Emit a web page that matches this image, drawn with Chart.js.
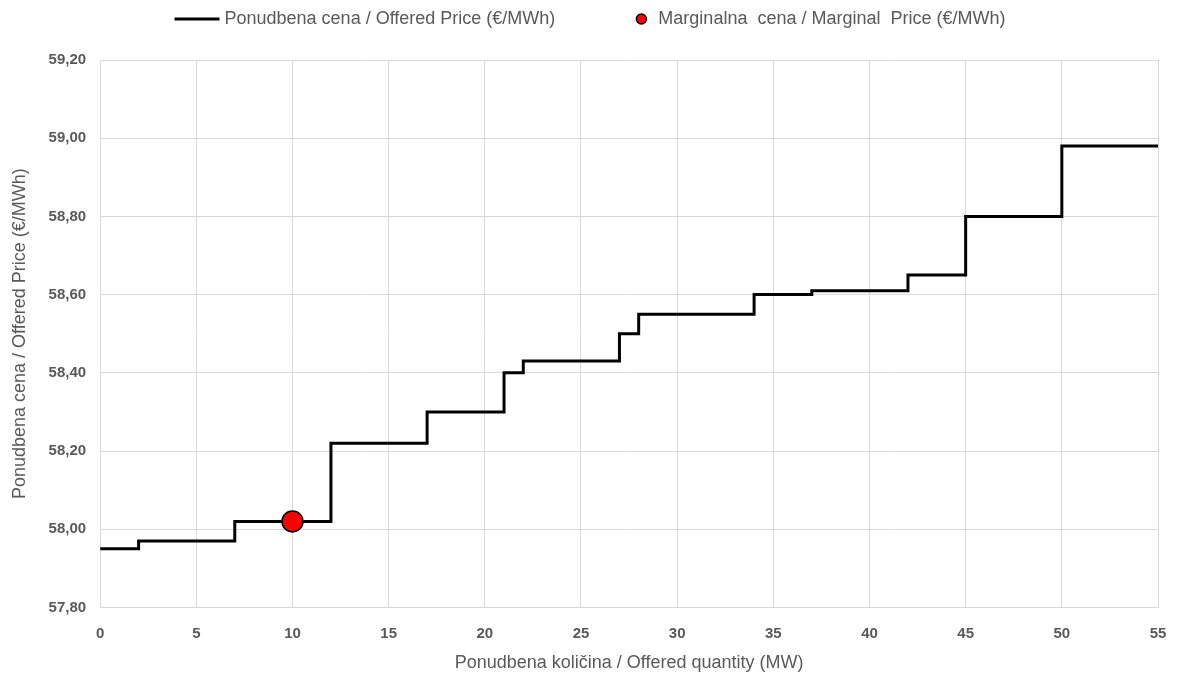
<!DOCTYPE html>
<html>
<head>
<meta charset="utf-8">
<script src="https://cdn.jsdelivr.net/npm/chart.js@4.4.0/dist/chart.umd.min.js"></script>
<style>
  html, body { margin: 0; padding: 0; background: #fff; }
  #wrap { width: 1180px; height: 675px; }
</style>
</head>
<body>
<div id="wrap"><canvas id="myChart"></canvas></div>
<script>
// step points: offered quantity (MW) where price changes, and the price from there on
const quantities = [0, 2, 7, 12, 17, 21, 22, 27, 28, 34, 37, 42, 45, 50, 55];
const prices = [57.95, 57.97, 58.02, 58.22, 58.30, 58.40, 58.43, 58.50, 58.55, 58.60, 58.61, 58.65, 58.80, 58.98, 58.98];
const marginalQty = [10];
const marginalPrice = [58.02];

const offerLabel = "Ponudbena cena / Offered Price (€/MWh)";
const marginalLabel = "Marginalna  cena / Marginal  Price (€/MWh)";
const textGray = '#595959';
const gridGray = '#d9d9d9';
const fontFam = '"Liberation Sans", Arial, sans-serif';

// legend drawn by hand so the line sample can be wider than the dot
const topLegend = {
    id: 'topLegend',
    afterDraw(chart) {
        const ctx = chart.ctx;
        ctx.save();
        ctx.font = '18px ' + fontFam;
        const w1 = ctx.measureText(offerLabel).width;
        const w2 = ctx.measureText(marginalLabel).width;
        const total = 45 + 5 + w1 + 81 + 22 + w2;
        let x = chart.width / 2 - total / 2;
        const y = 19;
        ctx.strokeStyle = '#000';
        ctx.lineWidth = 3;
        ctx.beginPath();
        ctx.moveTo(x, y);
        ctx.lineTo(x + 45, y);
        ctx.stroke();
        ctx.fillStyle = textGray;
        ctx.textBaseline = 'middle';
        ctx.fillText(offerLabel, x + 50, y);
        x += 50 + w1 + 81;
        ctx.beginPath();
        ctx.arc(x + 5, y, 5, 0, Math.PI * 2);
        ctx.fillStyle = '#ff0000';
        ctx.fill();
        ctx.lineWidth = 1.5;
        ctx.strokeStyle = '#000';
        ctx.stroke();
        ctx.fillStyle = textGray;
        ctx.fillText(marginalLabel, x + 22, y);
        ctx.restore();
    }
};

new Chart(document.getElementById('myChart'), {
    type: 'scatter',
    data: {
        datasets: [
            {
                label: offerLabel,
                data: quantities.map((q, i) => ({ x: q, y: prices[i] })),
                showLine: true,
                stepped: 'before',
                borderColor: '#000',
                borderWidth: 3,
                pointRadius: 0,
                order: 2
            },
            {
                label: marginalLabel,
                data: marginalQty.map((q, i) => ({ x: q, y: marginalPrice[i] })),
                backgroundColor: '#ff0000',
                borderColor: '#000',
                borderWidth: 1.5,
                pointRadius: 10.5,
                order: 1
            }
        ]
    },
    options: {
        responsive: true,
        maintainAspectRatio: false,
        animation: false,
        layout: { padding: { top: 60, right: 22, left: 9, bottom: 1 } },
        scales: {
            x: {
                type: 'linear',
                min: 0,
                max: 55,
                afterFit: scale => { scale.paddingRight = 0; },
                ticks: {
                    stepSize: 5,
                    color: textGray,
                    padding: 17,
                    font: { family: fontFam, size: 15, weight: 'bold' }
                },
                grid: { color: gridGray, drawTicks: false },
                border: { color: gridGray },
                title: {
                    display: true,
                    text: 'Ponudbena količina / Offered quantity (MW)',
                    color: textGray,
                    padding: { top: -7, bottom: 0 },
                    font: { family: fontFam, size: 18 }
                }
            },
            y: {
                min: 57.8,
                max: 59.2,
                ticks: {
                    stepSize: 0.2,
                    color: textGray,
                    padding: 14,
                    font: { family: fontFam, size: 15, weight: 'bold' },
                    callback: v => v.toFixed(2).replace('.', ',')
                },
                grid: { color: gridGray, drawTicks: false },
                border: { color: gridGray },
                title: {
                    display: true,
                    text: 'Ponudbena cena / Offered Price (€/MWh)',
                    color: textGray,
                    padding: { top: 0, bottom: 4 },
                    font: { family: fontFam, size: 18 }
                }
            }
        },
        plugins: {
            legend: { display: false },
            tooltip: { enabled: false }
        }
    },
    plugins: [topLegend]
});
</script>
</body>
</html>
